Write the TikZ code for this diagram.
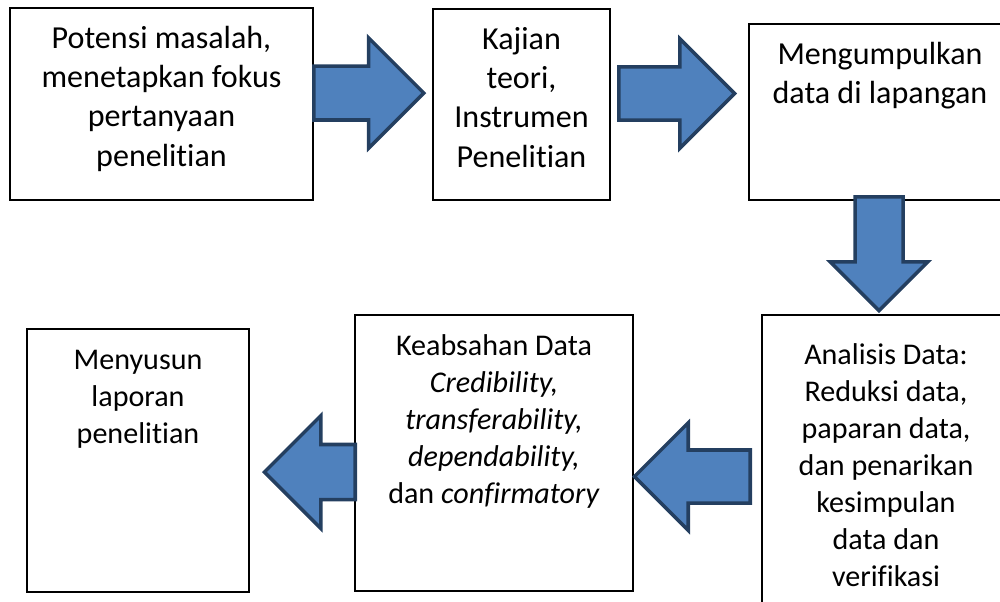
\documentclass[tikz,border=0pt]{standalone}
\usepackage{fontspec}
\setmainfont{Carlito}[Ligatures=NoCommon]
\usepackage{tikz}
\usetikzlibrary{shapes.arrows}

\definecolor{arrowFill}{HTML}{4F81BD}
\definecolor{arrowLine}{HTML}{243F60}

% text set from the top of a box: width, height, top pad, lines
\newcommand{\boxtext}[4]{\parbox[c][#2][t]{#1}{\centering\vspace*{#3}\strut #4}}

\begin{document}
\begin{tikzpicture}[
    stepBox/.style={
        rectangle, draw=black, line width=0.8pt, inner sep=0pt, outer sep=0pt,
        anchor=north west
    },
    upperText/.style={font=\fontsize{22.8}{27.9}\selectfont},
    lowerText/.style={font=\fontsize{21.4}{26.3}\selectfont},
    blockArrow/.style={
        single arrow, single arrow tip angle=90, draw=arrowLine, fill=arrowFill,
        line width=2.5pt, inner xsep=0pt, outer sep=0pt, anchor=tail
    }
]
\useasboundingbox (0,0) rectangle (25,-15.025);

% Row 1: from the problem to the field data
\node[stepBox, upperText] (potensi) at (0.25,-0.2) {\boxtext{7.575cm}{4.8cm}{0.325cm}{%
    Potensi masalah,\\menetapkan fokus\\pertanyaan\\penelitian}};

\node[stepBox, upperText] (kajian) at (10.825,-0.225) {\boxtext{4.425cm}{4.775cm}{0.325cm}{%
    Kajian\\teori,\\Instrumen\\Penelitian}};

\node[stepBox, upperText] (lapangan) at (18.725,-0.6) {\boxtext{6.55cm}{4.4cm}{0.325cm}{%
    Mengumpulkan\\data di lapangan}};

% Row 2: analysis, validity and the report
\node[stepBox, lowerText] (analisis) at (19.05,-7.875) {\boxtext{6.2cm}{7.5cm}{0.6cm}{%
    Analisis Data:\\Reduksi data,\\paparan data,\\dan penarikan\\kesimpulan\\data dan\\verifikasi}};

\node[stepBox, lowerText] (keabsahan) at (8.875,-7.875) {\boxtext{6.95cm}{6.9cm}{0.365cm}{%
    Keabsahan Data\\\textit{Credibility,}\\\textit{transferability,}\\\textit{dependability,}\\dan \textit{confirmatory}}};

\node[stepBox, lowerText] (laporan) at (0.675,-8.225) {\boxtext{5.55cm}{6.575cm}{0.365cm}{%
    Menyusun\\laporan\\penelitian}};

% Block arrows between the steps
\node[blockArrow, inner ysep=0.631cm, single arrow head extend=0.706cm, minimum height=2.75cm]
    (arrKajian) at (7.844,-2.325) {};
\node[blockArrow, inner ysep=0.619cm, single arrow head extend=0.706cm, minimum height=2.894cm]
    (arrLapangan) at (15.469,-2.3375) {};
\node[blockArrow, rotate=270, inner ysep=0.556cm, single arrow head extend=0.619cm, minimum height=2.844cm]
    (arrAnalisis) at (21.975,-4.919) {};
\node[blockArrow, rotate=180, inner ysep=0.619cm, single arrow head extend=0.681cm, minimum height=2.894cm]
    (arrKeabsahan) at (18.756,-11.9125) {};
\node[blockArrow, rotate=180, inner ysep=0.644cm, single arrow head extend=0.719cm, minimum height=2.269cm]
    (arrLaporan) at (8.881,-11.8) {};

\end{tikzpicture}
\end{document}
